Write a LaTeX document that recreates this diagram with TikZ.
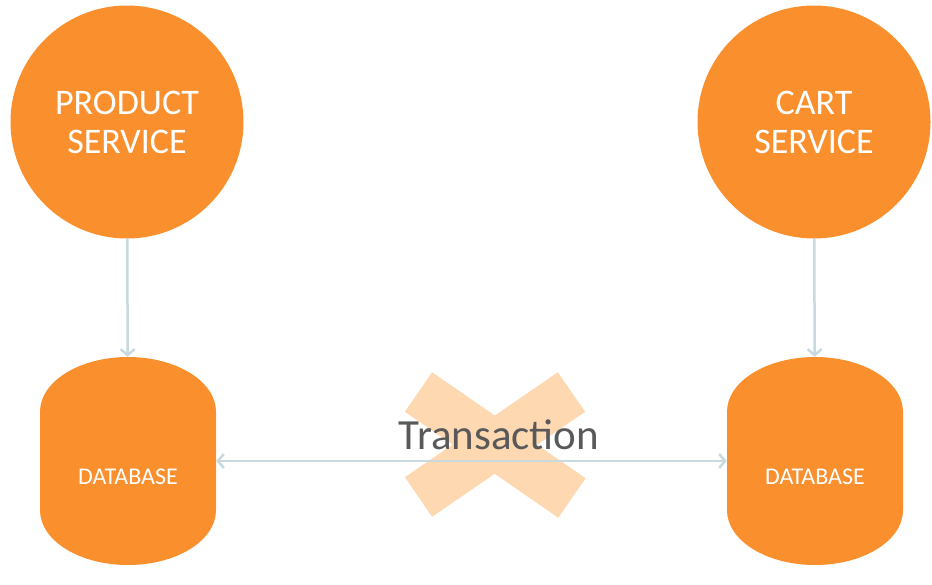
\documentclass[tikz,border=0pt]{standalone}
\usepackage{fontspec}
\setmainfont{Carlito}
\usetikzlibrary{shapes.geometric, arrows.meta, positioning}

\definecolor{serviceorange}{RGB}{250,143,46}
\definecolor{crosspeach}{RGB}{253,216,176}
\definecolor{linkgrey}{RGB}{200,218,223}
\definecolor{labelgrey}{RGB}{89,89,89}

\begin{document}
\begin{tikzpicture}[x=1pt, y=-1pt,
    service/.style={circle, fill=serviceorange, text=white, minimum size=233pt,
        inner sep=0pt, align=center, font=\fontsize{36}{39}\selectfont},
    database/.style={cylinder, shape border rotate=90, aspect=1.1, fill=serviceorange,
        text=white, minimum width=176pt, minimum height=208pt, inner sep=0pt,
        text height=15.5pt, text depth=23pt, anchor=shape center,
        font=\fontsize{24}{27}\selectfont},
    link/.style={draw=linkgrey, line width=2.5pt,
        -{Straight Barb[length=6pt, width=14pt]}},
    crossbar/.style={draw=crosspeach, line width=48pt, line cap=butt}
]
\useasboundingbox (0,0) rectangle (932,584);

% cross behind the transaction
\draw[crossbar] (418.5,392) -- (572,498);
\draw[crossbar] (571.5,392) -- (418.5,497);

\node (ProductService) [service] at (127,122) {PRODUCT\\SERVICE};
\node (CartService) [service] at (814,122) {CART\\SERVICE};

\node (ProductDatabase) [database] at (128,461) {DATABASE};
\node (CartDatabase) [database] at (815,461) {DATABASE};

\node (Transaction) [anchor=base, text=labelgrey, font=\fontsize{43}{47}\selectfont]
    at (499,449) {Transaction};

\draw[link] (ProductService) -- (ProductDatabase);
\draw[link] (CartService) -- (CartDatabase);
\draw[link, {Straight Barb[length=6pt, width=14pt]}-{Straight Barb[length=6pt, width=14pt]}]
    (ProductDatabase.shape center -| ProductDatabase.east)
    -- (CartDatabase.shape center -| CartDatabase.west);

\end{tikzpicture}
\end{document}
